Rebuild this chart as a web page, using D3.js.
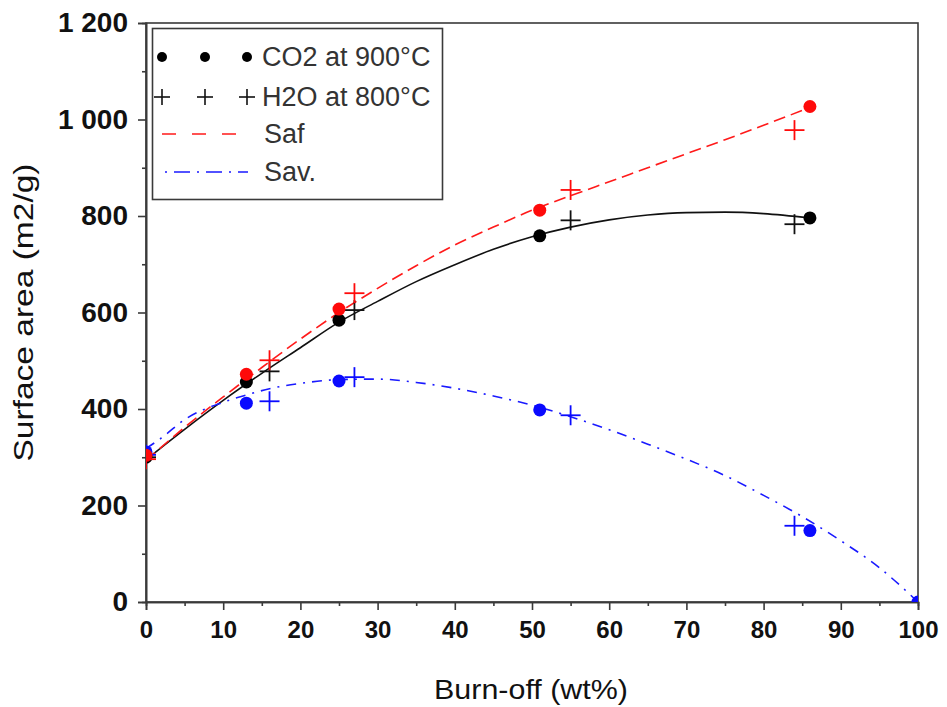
<!DOCTYPE html>
<html><head><meta charset="utf-8">
<script src="https://cdn.jsdelivr.net/npm/d3@7"></script>
<style>
html,body{margin:0;padding:0;background:#fff;}
svg{display:block;}
text{font-family:"Liberation Sans",Arial,sans-serif;}
</style></head>
<body>
<svg id="chart" width="947" height="707"></svg>
<script>
// ---- data ----
const co2X = [0, 13, 25, 51, 86];
const co2Total = [300, 456, 584, 759, 796];
const co2Saf = [304, 472, 607, 812, 1027];
const savDotX = [0, 13, 25, 51, 86, 100];
const co2Sav = [311, 412, 458, 398, 148, 0];

const h2oX = [0, 16, 27, 55, 84];
const h2oTotal = [300, 478, 605, 791, 783];
const h2oSaf = [296, 501, 640, 854, 978];
const h2oSav = [305, 416, 466, 387, 158];

const fitTotalX = [0, 5, 10, 15, 20, 25, 30, 35, 40, 45, 50, 55, 60, 65, 70, 75, 80, 86];
const fitTotal = [295, 358, 418, 474, 527, 580, 623, 664, 699, 731, 757, 777, 792, 802, 807, 808, 805, 796];
const fitSafX = [0, 5, 10, 15, 20, 25, 30, 35, 40, 45, 50, 55, 60, 65, 70, 75, 80, 86];
const fitSaf = [293, 362, 425, 486, 545, 600, 650, 697, 740, 777, 812, 842, 871, 900, 929, 958, 988, 1025];
const fitSavX = [0, 2, 5, 10, 13, 16, 20, 25, 30, 35, 40, 45, 50, 55, 60, 65, 70, 75, 80, 85, 90, 95, 100];
const fitSav = [318, 340, 378, 414, 429, 442, 453, 461, 462, 455, 443, 427, 408, 384, 357, 327, 296, 262, 221, 177, 127, 71, 0];

const xTicks = [0, 10, 20, 30, 40, 50, 60, 70, 80, 90, 100];
const xMinor = [5, 15, 25, 35, 45, 55, 65, 75, 85, 95];
const yTicks = [0, 200, 400, 600, 800, 1000, 1200];
const yTickLabels = ["0", "200", "400", "600", "800", "1 000", "1 200"];
const yMinor = [100, 300, 500, 700, 900, 1100];

const legendLabels = ["CO2 at 900°C", "H2O at 800°C", "Saf", "Sav."];
const xTitle = "Burn-off (wt%)";
const yTitle = "Surface area (m2/g)";

// ---- layout ----
const L = 146, R = 918, T = 23, B = 602;
const svg = d3.select("#chart");
const x = d3.scaleLinear().domain([0, 100]).range([L, R]);
const y = d3.scaleLinear().domain([0, 1200]).range([B, T]);
const axisCol = "#3a3a3a";

svg.append("defs").append("clipPath").attr("id", "clip")
  .append("rect").attr("x", L).attr("y", T).attr("width", R - L).attr("height", B - T);

// frame
svg.append("rect").attr("x", L).attr("y", T).attr("width", R - L).attr("height", B - T)
  .attr("fill", "none").attr("stroke", axisCol).attr("stroke-width", 1.6);

// axes
const gx = svg.append("g").attr("transform", `translate(0,${B})`)
  .call(d3.axisBottom(x).tickValues(xTicks).tickSize(8).tickPadding(11).tickFormat(d3.format("d")));
const gxm = svg.append("g").attr("transform", `translate(0,${B})`)
  .call(d3.axisBottom(x).tickValues(xMinor).tickSize(4).tickFormat(""));
const gy = svg.append("g").attr("transform", `translate(${L},0)`)
  .call(d3.axisLeft(y).tickValues(yTicks).tickSize(8).tickPadding(10)
    .tickFormat((d, i) => yTickLabels[i]));
const gym = svg.append("g").attr("transform", `translate(${L},0)`)
  .call(d3.axisLeft(y).tickValues(yMinor).tickSize(4).tickFormat(""));
[gx, gxm, gy, gym].forEach(g => {
  g.select(".domain").attr("stroke", axisCol).attr("stroke-width", 1.6);
  g.selectAll(".tick line").attr("stroke", axisCol).attr("stroke-width", 1.6);
});
gx.selectAll(".tick text").attr("font-size", 24).attr("font-weight", "bold")
  .attr("font-family", "'Liberation Sans',Arial,sans-serif").attr("fill", "#111");
gy.selectAll(".tick text").attr("font-size", 28).attr("font-weight", "bold")
  .attr("font-family", "'Liberation Sans',Arial,sans-serif").attr("fill", "#111");

// axis titles
svg.append("text").attr("x", 531).attr("y", 699).attr("text-anchor", "middle")
  .attr("font-size", 28).attr("fill", "#111")
  .attr("textLength", 194).attr("lengthAdjust", "spacingAndGlyphs").text(xTitle);
svg.append("text").attr("transform", `translate(33,${(T + B) / 2}) rotate(-90)`)
  .attr("text-anchor", "middle").attr("font-size", 28).attr("fill", "#111")
  .attr("textLength", 298).attr("lengthAdjust", "spacingAndGlyphs").text(yTitle);

// plot content
const plot = svg.append("g").attr("clip-path", "url(#clip)");
const line = d3.line().curve(d3.curveMonotoneX);

function drawFit(xs, ys, color, dash) {
  plot.append("path").datum(xs.map((d, i) => [x(d), y(ys[i])]))
    .attr("d", line).attr("fill", "none").attr("stroke", color)
    .attr("stroke-width", 1.6).attr("stroke-dasharray", dash);
}
drawFit(fitTotalX, fitTotal, "#111", null);
drawFit(fitSafX, fitSaf, "#ff1a1a", "12,6");
drawFit(fitSavX, fitSav, "#1a1aff", "10,7,2,7");

function dots(xs, ys, color, r) {
  plot.selectAll(null).data(xs.map((d, i) => [d, ys[i]])).enter().append("circle")
    .attr("cx", d => x(d[0])).attr("cy", d => y(d[1])).attr("r", r).attr("fill", color);
}
function pluses(xs, ys, color, h) {
  const g = plot.append("g").attr("stroke", color).attr("stroke-width", 1.8);
  xs.forEach((d, i) => {
    const cx = x(d), cy = y(ys[i]);
    g.append("line").attr("x1", cx - h).attr("x2", cx + h).attr("y1", cy).attr("y2", cy);
    g.append("line").attr("x1", cx).attr("x2", cx).attr("y1", cy - h).attr("y2", cy + h);
  });
}
dots(co2X, co2Total, "#000", 6.5);
pluses(h2oX, h2oTotal, "#111", 10);
dots(savDotX, co2Sav, "#0a0aff", 6.5);
pluses(h2oX, h2oSav, "#0a0aff", 10);
dots(co2X, co2Saf, "#ff0a0a", 6.5);
pluses(h2oX, h2oSaf, "#ff0a0a", 10);

// legend
const lg = svg.append("g");
lg.append("rect").attr("x", 152.5).attr("y", 28.5).attr("width", 290).attr("height", 171)
  .attr("fill", "#fff").attr("stroke", axisCol).attr("stroke-width", 1.6);
const rowY = [57, 97, 134, 172];
[162, 205, 247].forEach(cx => {
  lg.append("circle").attr("cx", cx).attr("cy", rowY[0]).attr("r", 5).attr("fill", "#000");
  const h = 8;
  lg.append("line").attr("x1", cx - h).attr("x2", cx + h).attr("y1", rowY[1]).attr("y2", rowY[1]).attr("stroke", "#111").attr("stroke-width", 1.6);
  lg.append("line").attr("x1", cx).attr("x2", cx).attr("y1", rowY[1] - h).attr("y2", rowY[1] + h).attr("stroke", "#111").attr("stroke-width", 1.6);
});
lg.append("line").attr("x1", 162).attr("x2", 244).attr("y1", rowY[2]).attr("y2", rowY[2])
  .attr("stroke", "#ff1a1a").attr("stroke-width", 1.6).attr("stroke-dasharray", "14,16");
lg.append("line").attr("x1", 165).attr("x2", 248).attr("y1", rowY[3]).attr("y2", rowY[3])
  .attr("stroke", "#1a1aff").attr("stroke-width", 1.6).attr("stroke-dasharray", "2,7,16,7");
legendLabels.forEach((t, i) => {
  lg.append("text").attr("x", i < 2 ? 262 : 264).attr("y", rowY[i]).attr("dy", "0.35em")
    .attr("font-size", 27).attr("fill", "#333").text(t);
});
</script>
</body></html>
